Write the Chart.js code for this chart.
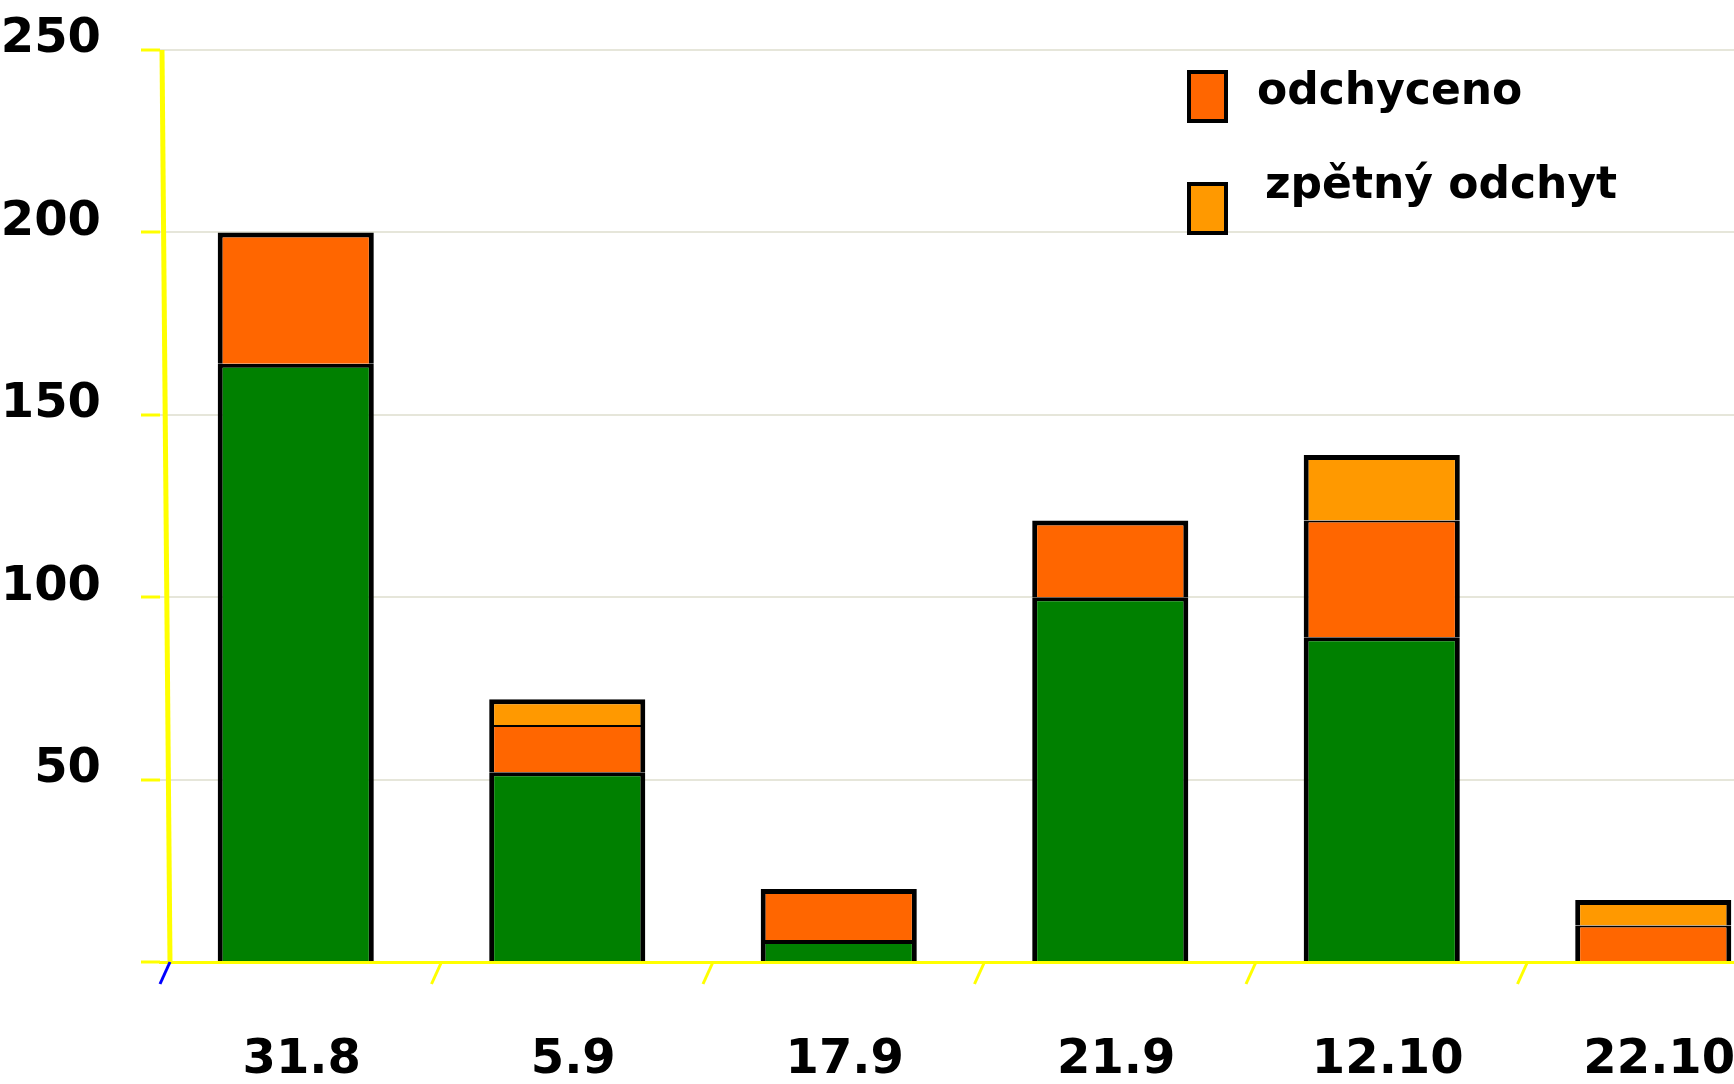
<!DOCTYPE html>
<html>
<head>
<meta charset="utf-8">
<script src="https://cdn.jsdelivr.net/npm/chart.js@4.4.1/dist/chart.umd.min.js"></script>
<style>
  html, body { margin: 0; padding: 0; background: #ffffff; overflow: hidden; }
  #wrap { position: relative; width: 1800px; height: 1084px; }
</style>
</head>
<body>
<div id="wrap"><canvas id="chart"></canvas></div>
<script>
// Sampling dates and counts per date
const dates = ['31.8', '5.9', '17.9', '21.9', '12.10', '22.10'];
const yTickValues = [0, 50, 100, 150, 200, 250];
const ostatni = [164, 52, 6, 100, 89, 0];
const odchyceno = [36, 13, 14, 21, 32, 10];
const zpetnyOdchyt = [0, 7, 0, 0, 18, 7];

const FONT = 'DejaVu Sans';
const GREEN = '#008000';
const ORANGE = '#ff6600';
const LIGHT_ORANGE = '#ff9900';
const YELLOW = '#ffff00';

// Decorations: slanted value axis and slanted category separators
const axisDecor = {
  id: 'axisDecor',
  beforeDatasetsDraw(chart) {
    const { ctx, chartArea: a, scales: { x } } = chart;
    ctx.save();
    ctx.lineCap = 'butt';
    ctx.strokeStyle = YELLOW;
    ctx.lineWidth = 5;
    ctx.beginPath();
    ctx.moveTo(a.left + 2, a.top);
    ctx.lineTo(a.left + 10, a.bottom);
    ctx.stroke();
    for (let i = 0; i < x.ticks.length; i++) {
      const b = i === 0 ? x.left : (x.getPixelForValue(i - 1) + x.getPixelForValue(i)) / 2;
      ctx.strokeStyle = i === 0 ? '#0000ff' : YELLOW;
      ctx.lineWidth = 3;
      ctx.beginPath();
      ctx.moveTo(b + 10, a.bottom);
      ctx.lineTo(b, a.bottom + 22);
      ctx.stroke();
    }
    ctx.restore();
  }
};

// Legend with square swatches, only for labelled series
const boxLegend = {
  id: 'boxLegend',
  afterDraw(chart, args, opts) {
    const { ctx } = chart;
    const items = chart.data.datasets.filter(ds => ds.label);
    ctx.save();
    items.forEach((ds, i) => {
      const row = opts.rows[i];
      const bw = opts.border;
      ctx.fillStyle = '#000';
      ctx.fillRect(opts.x, row.y, opts.boxW, opts.boxH);
      ctx.fillStyle = ds.backgroundColor;
      ctx.fillRect(opts.x + bw, row.y + bw, opts.boxW - 2 * bw, opts.boxH - 2 * bw);
      ctx.fillStyle = '#000';
      ctx.font = opts.font;
      ctx.textBaseline = 'alphabetic';
      ctx.textAlign = 'left';
      ctx.fillText(ds.label, row.textX, row.textY);
    });
    ctx.restore();
  }
};

const side = 5;
const chart = new Chart(document.getElementById('chart'), {
  type: 'bar',
  data: {
    labels: dates,
    datasets: [
      {
        label: '',
        data: ostatni,
        backgroundColor: GREEN,
        borderColor: '#000',
        borderWidth: { top: 4, left: side, right: side, bottom: 0 }
      },
      {
        label: 'odchyceno',
        data: odchyceno,
        backgroundColor: ORANGE,
        borderColor: '#000',
        borderWidth: ctx => ({
          top: zpetnyOdchyt[ctx.dataIndex] > 0 ? 2 : 5,
          left: side, right: side, bottom: 0
        })
      },
      {
        label: 'zpětný odchyt',
        data: zpetnyOdchyt,
        backgroundColor: LIGHT_ORANGE,
        borderColor: '#000',
        borderWidth: { top: 5, left: side, right: side, bottom: 0 }
      }
    ]
  },
  options: {
    responsive: true,
    maintainAspectRatio: false,
    animation: false,
    layout: { padding: { top: 50, right: 10, left: 0, bottom: 0 } },
    datasets: { bar: { categoryPercentage: 1, barPercentage: 0.575, borderSkipped: 'start' } },
    plugins: {
      legend: { display: false },
      tooltip: { enabled: false },
      boxLegend: {
        x: 1187, boxW: 41, boxH: 53, border: 4,
        font: 'bold 44px "' + FONT + '"',
        rows: [
          { y: 70, textX: 1257, textY: 104 },
          { y: 182, textX: 1265, textY: 198 }
        ]
      }
    },
    scales: {
      x: {
        stacked: true,
        offset: true,
        z: 1,
        border: { display: true, color: YELLOW, width: 3 },
        grid: { display: false, drawTicks: false },
        ticks: {
          color: '#000',
          font: { family: FONT, size: 48, weight: 'bold' },
          padding: 70,
          labelOffset: 6,
          maxRotation: 0
        },
        afterFit: s => { s.height = 122; }
      },
      y: {
        stacked: true,
        min: 0,
        max: 250,
        afterBuildTicks: s => { s.ticks = yTickValues.map(v => ({ value: v })); },
        border: { display: false },
        grid: {
          color: '#e6e6da',
          lineWidth: 2,
          borderDash: [2, 5],
          tickColor: YELLOW,
          tickLength: 19,
          tickWidth: 3,
          tickBorderDash: []
        },
        ticks: {
          color: '#000',
          font: { family: FONT, size: 48, weight: 'bold' },
          padding: 40,
          labelOffset: -10,
          callback: v => (v === 0 ? '' : String(v))
        },
        afterFit: s => {
          s.width = 160;
          s.paddingTop = 0;
          s.paddingBottom = 0;
        }
      }
    }
  },
  plugins: [axisDecor, boxLegend]
});
</script>
</body>
</html>
